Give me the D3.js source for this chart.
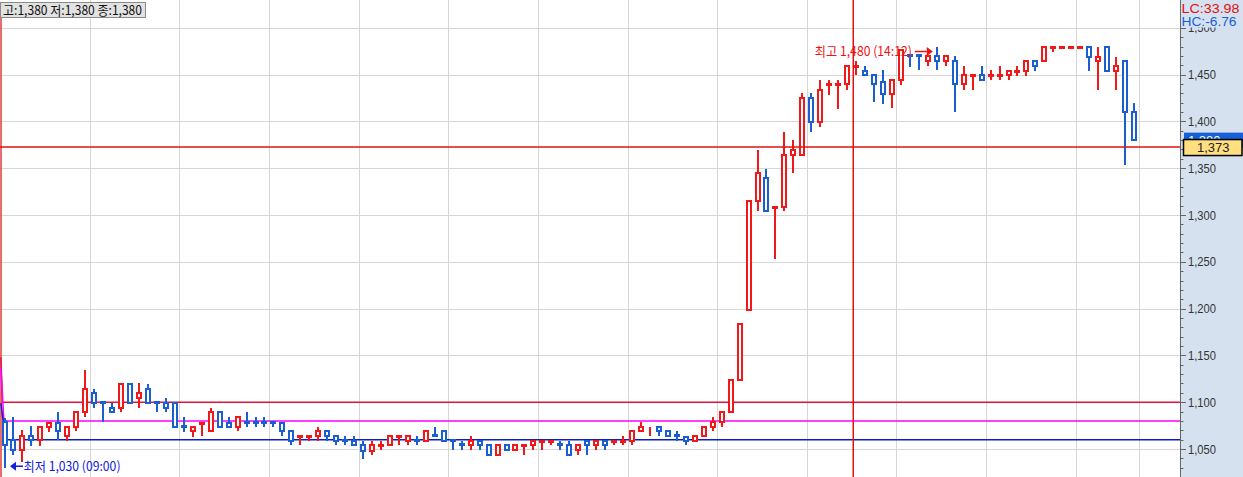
<!DOCTYPE html>
<html><head><meta charset="utf-8">
<script src="https://cdn.jsdelivr.net/npm/d3@7"></script>
<style>html,body{margin:0;padding:0;background:#fff;overflow:hidden}</style>
</head><body><svg id="c" width="1243" height="477"></svg>
<script>
// 3-minute candles from 09:00 (index 0) to the close (index 127)
const opens  = [1079,1060,1049,1064,1060,1074,1078,1064,1074,1089,1110,1100,1094,1094,1119,1104,1114,1100,1099,1099,
                1075,1069,1077,1069,1089,1078,1074,1079,1079,1079,1079,1078,1069,1063,1063,1064,1069,1064,1060,1059,
                1054,1048,1053,1054,1063,1059,1060,1059,1065,1069,1060,1055,1054,1059,1054,1044,1054,1049,1053,1054,
                1058,1058,1055,1054,1049,1059,1054,1059,1058,1058,1059,1069,1073,1074,1069,1065,1063,1059,1064,1074,
                1079,1089,1124,1199,1315,1339,1308,1309,1364,1364,1425,1399,1439,1439,1440,1458,1454,1450,1442,1429,
                1444,1471,1471,1465,1470,1465,1464,1440,1449,1450,1449,1449,1450,1453,1454,1464,1464,1478,1478,1478,
                1478,1479,1464,1479,1454,1464,1410,1380];
const highs  = [1083,1084,1070,1075,1074,1078,1090,1074,1089,1134,1114,1100,1099,1119,1119,1120,1119,1100,1104,1099,
                1084,1074,1078,1094,1089,1084,1084,1089,1084,1084,1079,1078,1069,1064,1064,1074,1069,1064,1064,1064,
                1059,1059,1059,1064,1064,1064,1064,1069,1074,1069,1060,1059,1064,1059,1054,1054,1054,1054,1054,1059,
                1059,1059,1059,1059,1054,1059,1059,1059,1059,1064,1069,1079,1074,1074,1069,1069,1063,1064,1074,1084,
                1089,1124,1184,1315,1369,1349,1309,1389,1380,1430,1430,1444,1444,1444,1459,1464,1459,1450,1455,1444,
                1476,1471,1471,1470,1480,1470,1470,1459,1450,1459,1455,1459,1454,1459,1464,1464,1479,1479,1479,1479,
                1479,1479,1479,1479,1469,1464,1420,1380];
const lows   = [1030,1044,1036,1053,1053,1068,1060,1059,1069,1084,1094,1079,1089,1089,1099,1094,1099,1089,1089,1074,
                1068,1063,1064,1069,1074,1074,1069,1074,1074,1074,1074,1064,1054,1054,1059,1059,1059,1054,1054,1054,
                1039,1044,1049,1054,1054,1054,1054,1059,1064,1059,1049,1049,1049,1049,1044,1044,1049,1049,1044,1049,
                1049,1054,1049,1044,1044,1044,1049,1049,1054,1054,1054,1069,1064,1064,1064,1059,1054,1059,1064,1069,
                1074,1089,1124,1199,1304,1304,1253,1304,1345,1364,1389,1394,1428,1413,1434,1450,1450,1421,1419,1414,
                1439,1458,1455,1459,1455,1459,1410,1434,1434,1444,1444,1444,1444,1449,1449,1454,1464,1474,1478,1478,
                1478,1454,1434,1454,1434,1353,1380,1380];
const closes = [1054,1049,1064,1060,1074,1078,1069,1074,1089,1114,1099,1099,1089,1119,1099,1110,1099,1099,1094,1074,
                1074,1074,1078,1089,1074,1074,1084,1078,1078,1078,1078,1069,1059,1064,1064,1069,1064,1059,1059,1054,
                1048,1054,1054,1064,1064,1064,1059,1069,1064,1059,1059,1054,1059,1054,1044,1054,1049,1054,1054,1059,
                1059,1059,1054,1044,1054,1054,1059,1054,1059,1059,1069,1074,1074,1069,1064,1064,1059,1064,1074,1079,
                1089,1124,1184,1315,1345,1304,1309,1364,1369,1425,1399,1434,1440,1440,1459,1459,1450,1440,1429,1444,
                1476,1470,1470,1470,1465,1470,1440,1450,1450,1444,1450,1450,1454,1454,1464,1459,1479,1479,1479,1479,
                1479,1469,1469,1454,1459,1410,1380,1380];

const yTickValues = [1050,1100,1150,1200,1250,1300,1350,1400,1450,1500];
const yMinorStep = 10;
const gridIndices = [10,20,30,40,50,60,70,80,90,100,110,120,127];
const refNames  = ['upper','middle','lower'];
const refValues = [1100,1080,1060];
const refStarts = [1148,1137,1099];
const refColors = ['#e0143c','#ff00ff','#0a1ec8'];

const lastPrice = 1380;
const crossIndex = 94.68, crossPrice = 1372.6, crossLabel = '1,373';
const maxIndex = 104, maxPrice = 1480, maxLabel = '최고 1,480 (14:12)';
const minIndex = 0, minPrice = 1030, minLabel = '최저 1,030 (09:00)';
const headerText = '고:1,380 저:1,380 종:1,380';
const lcText = 'LC:33.98', hcText = 'HC:-6.76';

const W = 1243, H = 477, plotRight = 1180;
const UP = '#f01818', DOWN = '#1a5fd2';
const svg = d3.select('#c');
const x = d3.scaleLinear().domain([0,127]).range([4.5,1143]);
const step = x(1) - x(0);
const y = d3.scaleLinear().domain([1050,1500]).range([449,27.8]);
const fmt = d3.format(',');
const FONT = '"Liberation Sans", Arial, sans-serif';
const KFONT = '"Noto Sans CJK KR", "Liberation Sans", sans-serif';

// grid
const g = svg.append('g');
g.selectAll('line.hg').data(yTickValues).join('line')
  .attr('x1',0).attr('x2',plotRight)
  .attr('y1',d=>Math.round(y(d))+0.5).attr('y2',d=>Math.round(y(d))+0.5)
  .attr('stroke','#d6d6d6').attr('stroke-width',1);
g.selectAll('line.vg').data(gridIndices).join('line')
  .attr('x1',d=>Math.round(x(d)-step/2)+0.5).attr('x2',d=>Math.round(x(d)-step/2)+0.5)
  .attr('y1',0).attr('y2',H)
  .attr('stroke','#d6d6d6').attr('stroke-width',1);

// left border line
svg.append('line').attr('x1',1).attr('x2',1).attr('y1',17).attr('y2',H)
  .attr('stroke','#e03c3c').attr('stroke-width',1.5);

// reference lines
refValues.forEach((v,k)=>{
  const p = d3.path();
  p.moveTo(x(-0.4), y(refStarts[k]));
  p.lineTo(x(-0.4)+ (k+1)*1.5, y(v));
  p.lineTo(plotRight, y(v));
  svg.append('path').attr('d',p.toString()).attr('fill','none')
    .attr('stroke',refColors[k]).attr('stroke-width',1.5);
});

// candles
const data = opens.map((o,i)=>({i,o,h:highs[i],l:lows[i],c:closes[i]}));
function col(d){
  if (d.c>d.o) return UP;
  if (d.c<d.o) return DOWN;
  const prev = d.i>0 ? closes[d.i-1] : d.c;
  return d.c>prev ? UP : DOWN;
}
const cg = svg.append('g');
const cs = cg.selectAll('g').data(data).join('g');
cs.append('line')
  .attr('x1',d=>Math.round(x(d.i))).attr('x2',d=>Math.round(x(d.i)))
  .attr('y1',d=>Math.round(y(d.h))).attr('y2',d=>Math.round(y(d.l)))
  .attr('stroke',col).attr('stroke-width',2);
cs.append('rect')
  .attr('x',d=>Math.round(x(d.i))-2).attr('width',4)
  .attr('y',d=>Math.round(y(Math.max(d.o,d.c))))
  .attr('height',d=>Math.round(y(Math.min(d.o,d.c)))-Math.round(y(Math.max(d.o,d.c))))
  .attr('fill','#fff').attr('stroke',col).attr('stroke-width',2);

// crosshair
const cx = x(crossIndex), cy = y(crossPrice);
svg.append('line').attr('x1',cx).attr('x2',cx).attr('y1',0).attr('y2',H)
  .attr('stroke','#e01010').attr('stroke-width',1.5);
svg.append('line').attr('x1',0).attr('x2',plotRight).attr('y1',cy).attr('y2',cy)
  .attr('stroke','#e01010').attr('stroke-width',1.5);

// max annotation
{
  const tx = x(maxIndex)-4, ty = y(maxPrice)+5;
  svg.append('path').attr('d',`M${tx},${ty} L${tx-6},${ty-4.5} L${tx-6},${ty+4.5} Z`).attr('fill','#f01010');
  svg.append('line').attr('x1',tx-6).attr('x2',tx-18).attr('y1',ty).attr('y2',ty).attr('stroke','#f01010').attr('stroke-width',1.5);
  svg.append('text').attr('x',tx-21).attr('y',ty+4.5).attr('text-anchor','end')
    .attr('font-family',KFONT).attr('font-size',13).attr('fill','#f01010')
    .attr('textLength',97).attr('lengthAdjust','spacingAndGlyphs').text(maxLabel);
}
// min annotation
{
  const tx = x(minIndex)+5.5, ty = y(minPrice)-1.5;
  svg.append('path').attr('d',`M${tx},${ty} L${tx+6},${ty-4.5} L${tx+6},${ty+4.5} Z`).attr('fill','#1020e0');
  svg.append('line').attr('x1',tx+6).attr('x2',tx+13).attr('y1',ty).attr('y2',ty).attr('stroke','#1020e0').attr('stroke-width',1.5);
  svg.append('text').attr('x',tx+13.5).attr('y',ty+5)
    .attr('font-family',KFONT).attr('font-size',13).attr('fill','#1020e0')
    .attr('textLength',97).attr('lengthAdjust','spacingAndGlyphs').text(minLabel);
}

// header
svg.append('rect').attr('x',0.5).attr('y',2.5).attr('width',145).attr('height',15)
  .attr('fill','#e2e2e2').attr('stroke','#8a8a8a');
svg.append('text').attr('x',3).attr('y',15).attr('font-family',KFONT).attr('font-size',13)
  .attr('fill','#111').attr('textLength',139).attr('lengthAdjust','spacingAndGlyphs').text(headerText);

// right axis panel
const ax = svg.append('g');
ax.append('rect').attr('x',plotRight).attr('y',0).attr('width',W-plotRight).attr('height',H).attr('fill','#d5e1ef');
ax.append('line').attr('x1',plotRight+0.5).attr('x2',plotRight+0.5).attr('y1',0).attr('y2',H).attr('stroke','#666');
const minorTicks = d3.range(1020, 1501, yMinorStep);
ax.selectAll('line.mt').data(minorTicks).join('line')
  .attr('x1',plotRight).attr('x2',d=>yTickValues.includes(d)?plotRight+6:plotRight+3.5)
  .attr('y1',d=>Math.round(y(d))+0.5).attr('y2',d=>Math.round(y(d))+0.5)
  .attr('stroke','#666');
ax.selectAll('text.tl').data(yTickValues).join('text')
  .attr('x',plotRight+8).attr('y',d=>y(d)+4.5)
  .attr('font-family',FONT).attr('font-size',13).attr('fill','#333')
  .attr('textLength',28).attr('lengthAdjust','spacingAndGlyphs')
  .text(d=>fmt(d));
// LC/HC box covering top label
ax.append('rect').attr('x',plotRight+1).attr('y',0).attr('width',W-plotRight-1).attr('height',27.5).attr('fill','#d5e1ef');
ax.append('text').attr('x',plotRight+1.5).attr('y',12.5).attr('font-family',FONT).attr('font-size',12.5)
  .attr('fill','#e01010').attr('textLength',58).attr('lengthAdjust','spacingAndGlyphs').text(lcText);
ax.append('text').attr('x',plotRight+1.5).attr('y',25.5).attr('font-family',FONT).attr('font-size',12.5)
  .attr('fill','#1560d8').attr('textLength',55).attr('lengthAdjust','spacingAndGlyphs').text(hcText);

// last price label
const ly = y(lastPrice);
ax.append('rect').attr('x',plotRight+4).attr('y',ly-7.5).attr('width',W-plotRight-4).attr('height',15).attr('fill','#1560d8');
ax.append('text').attr('x',plotRight+8).attr('y',ly+4.5).attr('font-family',FONT).attr('font-size',13)
  .attr('fill','#fff').text(fmt(lastPrice));
// crosshair label
ax.append('rect').attr('x',plotRight+3.5).attr('y',cy-7.5).attr('width',W-plotRight-4.5).attr('height',16)
  .attr('fill','#ffdf80').attr('stroke','#000').attr('stroke-width',1.5);
ax.append('text').attr('x',(plotRight+3.5+W)/2).attr('y',cy+5).attr('text-anchor','middle')
  .attr('font-family',FONT).attr('font-size',13).attr('fill','#222').text(crossLabel);
</script></body></html>
